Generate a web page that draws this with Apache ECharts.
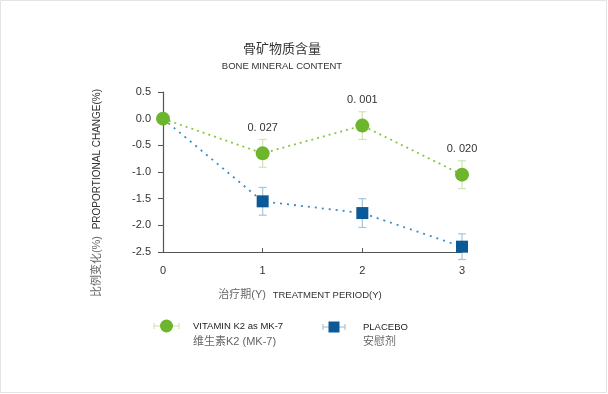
<!DOCTYPE html>
<html><head><meta charset="utf-8">
<script src="https://cdn.jsdelivr.net/npm/echarts@6/dist/echarts.min.js"></script>
<style>html,body{margin:0;padding:0;background:#fff}#c{width:608px;height:394px}</style>
</head><body><div id="c"></div>
<script>
var periods = [0, 1, 2, 3];
var yTicks = [-2.5, -2.0, -1.5, -1.0, -0.5, 0.0, 0.5];
var vitaminK2 = [0.0, -0.65, -0.13, -1.05];
var vitaminErr = [0, 0.26, 0.26, 0.26];
var placebo = [0.0, -1.55, -1.77, -2.40];
var placeboErr = [0, 0.26, 0.27, 0.24];
var pValues = ['', '0. 027', '0. 001', '0. 020'];

var GREEN = '#6cb52d', GREEN_LINE = '#8cc63f', GREEN_ERR = '#cfe5b5';
var BLUE = '#0b5a97', BLUE_LINE = '#3d8cc4', BLUE_ERR = '#a9c5da';
var FONT = '"Liberation Sans", Arial, "Noto Sans CJK SC", sans-serif';

function errSeries(vals, errs, color) {
  var d = [];
  for (var i = 0; i < periods.length; i++) if (errs[i] > 0) d.push([periods[i], vals[i] - errs[i], vals[i] + errs[i]]);
  return {
    type: 'custom', z: 1, silent: true,
    data: d,
    renderItem: function (params, api) {
      var x = api.value(0);
      var lo = api.coord([x, api.value(1)]);
      var hi = api.coord([x, api.value(2)]);
      var w = 4;
      var st = {stroke: color, lineWidth: 1.2};
      return {type: 'group', children: [
        {type: 'line', shape: {x1: lo[0], y1: lo[1], x2: hi[0], y2: hi[1]}, style: st},
        {type: 'line', shape: {x1: lo[0] - w, y1: lo[1], x2: lo[0] + w, y2: lo[1]}, style: st},
        {type: 'line', shape: {x1: hi[0] - w, y1: hi[1], x2: hi[0] + w, y2: hi[1]}, style: st}
      ]};
    }
  };
}

var chart = echarts.init(document.getElementById('c'), null, {renderer: 'canvas'});
chart.setOption({
  backgroundColor: '#fff',
  animation: false,
  title: {
    text: '骨矿物质含量', subtext: 'BONE MINERAL CONTENT',
    left: 277, textAlign: 'center', top: 38, itemGap: 6,
    textStyle: {fontSize: 13, fontWeight: 'normal', color: '#333', fontFamily: FONT},
    subtextStyle: {fontSize: 9.5, color: '#333', fontFamily: FONT}
  },
  grid: {left: 163, right: 146, top: 92, bottom: 142},
  xAxis: {
    type: 'value', min: 0, max: 3, interval: 1,
    axisLine: {show: true, onZero: false, lineStyle: {color: '#555', width: 1.2}},
    axisTick: {show: true, inside: true, length: 4, lineStyle: {color: '#555'}},
    axisLabel: {color: '#333', fontSize: 11, margin: 13, fontFamily: FONT},
    splitLine: {show: false}
  },
  yAxis: {
    type: 'value', min: yTicks[0], max: yTicks[yTicks.length - 1], interval: 0.5,
    axisLine: {show: true, onZero: false, lineStyle: {color: '#555', width: 1.2}},
    axisTick: {show: true, length: 5, lineStyle: {color: '#555'}},
    axisLabel: {color: '#333', fontSize: 11, margin: 12, fontFamily: FONT,
      formatter: function (v) { return v.toFixed(1); }},
    splitLine: {show: false}
  },
  series: [
    errSeries(placebo, placeboErr, BLUE_ERR),
    errSeries(vitaminK2, vitaminErr, GREEN_ERR),
    {
      name: 'PLACEBO', type: 'line', z: 3,
      data: periods.map(function (p, i) { return {value: [p, placebo[i]], symbolSize: i === 0 ? 0 : 12}; }),
      symbol: 'rect', itemStyle: {color: BLUE},
      lineStyle: {color: BLUE_LINE, type: [2, 5], width: 1.8}
    },
    {
      name: 'VITAMIN K2', type: 'line', z: 4,
      data: periods.map(function (p, i) { return [p, vitaminK2[i]]; }),
      symbol: 'circle', symbolSize: 14, itemStyle: {color: GREEN},
      lineStyle: {color: GREEN_LINE, type: [2, 4], width: 1.8},
      label: {show: true, position: 'top', distance: 13, color: '#333', fontSize: 11, fontFamily: FONT,
        formatter: function (p) { return pValues[p.dataIndex]; }}
    }
  ],
  graphic: [
    {type: 'rect', shape: {x: 0.5, y: 0.5, width: 606, height: 392}, style: {fill: null, stroke: '#e3e3e3', lineWidth: 1}},
    {type: 'text', x: 97, y: 193, rotation: Math.PI / 2,
      style: {text: '{a|比例变化(%)}  {b|PROPORTIONAL CHANGE(%)}', align: 'center', verticalAlign: 'middle',
        rich: {a: {fontSize: 11, fill: '#666', fontFamily: FONT}, b: {fontSize: 10, fill: '#333', fontFamily: FONT}}}},
    {type: 'text', x: 300, y: 295,
      style: {text: '{a|治疗期(Y)}  {b|TREATMENT PERIOD(Y)}', align: 'center', verticalAlign: 'middle',
        rich: {a: {fontSize: 11, fill: '#666', fontFamily: FONT}, b: {fontSize: 9.5, fill: '#333', fontFamily: FONT}}}},
    {type: 'line', shape: {x1: 154, y1: 326, x2: 179, y2: 326}, style: {stroke: GREEN_ERR, lineWidth: 1.2}},
    {type: 'line', shape: {x1: 154, y1: 323, x2: 154, y2: 329}, style: {stroke: GREEN_ERR, lineWidth: 1.2}},
    {type: 'line', shape: {x1: 179, y1: 323, x2: 179, y2: 329}, style: {stroke: GREEN_ERR, lineWidth: 1.2}},
    {type: 'circle', shape: {cx: 166.5, cy: 326, r: 6.5}, style: {fill: GREEN}},
    {type: 'text', x: 193, y: 326, style: {text: 'VITAMIN K2 as MK-7', fontSize: 9.5, fill: '#222', fontFamily: FONT, verticalAlign: 'middle'}},
    {type: 'text', x: 193, y: 342, style: {text: '维生素K2 (MK-7)', fontSize: 11, fill: '#666', fontFamily: FONT, verticalAlign: 'middle'}},
    {type: 'line', shape: {x1: 323, y1: 327, x2: 345, y2: 327}, style: {stroke: BLUE_ERR, lineWidth: 1.2}},
    {type: 'line', shape: {x1: 323, y1: 324, x2: 323, y2: 330}, style: {stroke: BLUE_ERR, lineWidth: 1.2}},
    {type: 'line', shape: {x1: 345, y1: 324, x2: 345, y2: 330}, style: {stroke: BLUE_ERR, lineWidth: 1.2}},
    {type: 'rect', shape: {x: 328.5, y: 321.5, width: 11, height: 11}, style: {fill: BLUE}},
    {type: 'text', x: 363, y: 327, style: {text: 'PLACEBO', fontSize: 9.5, fill: '#222', fontFamily: FONT, verticalAlign: 'middle'}},
    {type: 'text', x: 363, y: 342, style: {text: '安慰剂', fontSize: 11, fill: '#666', fontFamily: FONT, verticalAlign: 'middle'}}
  ]
});
</script></body></html>
